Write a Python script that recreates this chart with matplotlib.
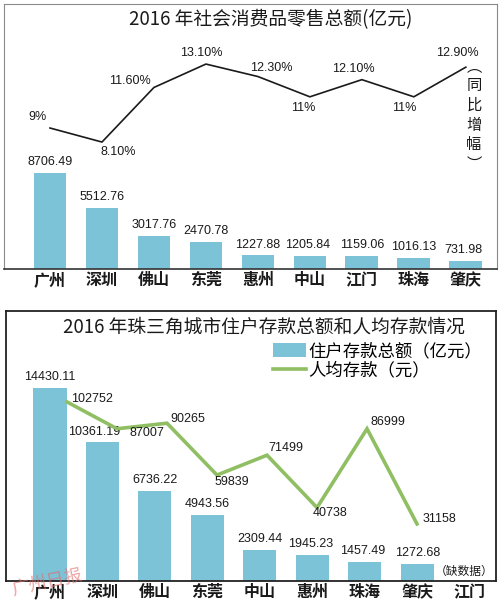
import numpy as np
import matplotlib
matplotlib.use("Agg")
import matplotlib.pyplot as plt

plt.rcParams["font.family"] = ["Noto Sans CJK SC", "DejaVu Sans"]

# ---- data: top panel (retail sales) ----
retail_cities = ["广州", "深圳", "佛山", "东莞", "惠州", "中山", "江门", "珠海", "肇庆"]
retail_values = [8706.49, 5512.76, 3017.76, 2470.78, 1227.88, 1205.84, 1159.06, 1016.13, 731.98]
retail_growth = [9.0, 8.1, 11.6, 13.1, 12.3, 11.0, 12.1, 11.0, 12.9]
retail_growth_labels = ["9%", "8.10%", "11.60%", "13.10%", "12.30%", "11%", "12.10%", "11%", "12.90%"]

# ---- data: bottom panel (household deposits) ----
deposit_cities = ["广州", "深圳", "佛山", "东莞", "中山", "惠州", "珠海", "肇庆", "江门"]
deposit_totals = [14430.11, 10361.19, 6736.22, 4943.56, 2309.44, 1945.23, 1457.49, 1272.68]
per_capita = [102752, 87007, 90265, 59839, 71499, 40738, 86999, 31158]

BAR = "#7dc3d8"
GREEN = "#90bf63"
INK = "#1a1a1a"
NUM = "Liberation Sans"

fig = plt.figure(figsize=(5.0, 6.07), dpi=100)
fig.patch.set_facecolor("white")

# ================= top panel =================
ax = fig.add_axes([0.008, 0.5568, 0.986, 0.4366])
x = np.arange(len(retail_cities))
ax.bar(x, retail_values, width=0.63, color=BAR, zorder=2)
ax.set_xlim(-0.885, 8.6)
ax.set_ylim(0, 24030)
ax.set_yticks([])
ax.set_xticks(x)
ax.set_xticklabels(retail_cities, fontsize=11.5, fontweight="bold", color=INK)
ax.tick_params(axis="x", length=0, pad=2)
for s in ["top", "left", "right"]:
    ax.spines[s].set_color("#8a8a8a")
    ax.spines[s].set_linewidth(0.8)
ax.spines["bottom"].set_color("#333333")
ax.spines["bottom"].set_linewidth(1.2)

val_dx = [0, 0, 0, 0, 0, -0.05, 0, 0, -0.05]
for i, v in enumerate(retail_values):
    ax.text(x[i] + val_dx[i], v + 450, f"{v:.2f}", ha="center", va="bottom",
            fontsize=9, family=NUM, color=INK)

ax.text(0.54, 0.98, "2016 年社会消费品零售总额(亿元)", transform=ax.transAxes,
        ha="center", va="top", fontsize=13.5, fontweight="medium", color=INK)

axl = ax.twinx()
axl.set_ylim(-0.04, 16.95)
axl.set_yticks([])
axl.set_xlim(ax.get_xlim())
for s in axl.spines.values():
    s.set_visible(False)
axl.plot(x, retail_growth, color=INK, lw=1.2, zorder=3)

# label offsets in pixels (dx, dy), dy positive = up
g_off = [(-12, 11), (16, -10), (-24, 6), (-5, 11), (13, 9), (-7, -11), (-8, 11), (-10, -11), (-8, 14)]
for i, (g, lab) in enumerate(zip(retail_growth, retail_growth_labels)):
    dx, dy = g_off[i]
    axl.annotate(lab, (x[i], g), xytext=(dx, dy), textcoords="offset pixels",
                 ha="center", va="center", fontsize=9, family=NUM, color=INK)

ax.text(0.953, 0.58, "︵\n同\n比\n增\n幅\n︶", transform=ax.transAxes,
        ha="center", va="center", fontsize=11, color=INK, linespacing=1.2)

# ================= bottom panel =================
bx = fig.add_axes([0.012, 0.0428, 0.98, 0.4448])
xb = np.arange(len(deposit_cities))
xt = np.arange(len(deposit_totals))
bars = bx.bar(xt, deposit_totals, width=0.63, color=BAR, zorder=2)
bx.set_xlim(-0.838, 8.5)
bx.set_ylim(0, 20190)
bx.set_yticks([])
bx.set_xticks(xb)
bx.set_xticklabels(deposit_cities, fontsize=11.5, fontweight="bold", color=INK)
bx.tick_params(axis="x", length=0, pad=2)
for s in bx.spines.values():
    s.set_color("#222222")
    s.set_linewidth(1.3)

tot_dx = [0, -0.15, 0, 0, 0, -0.03, -0.04, 0]
for i, v in enumerate(deposit_totals):
    bx.text(xt[i] + tot_dx[i], v + 350, f"{v:.2f}", ha="center", va="bottom",
            fontsize=9, family=NUM, color=INK)

bx.text(7.9, 250, "（缺数据）", ha="center", va="bottom", fontsize=8.5, color=INK)

bx.text(0.526, 0.98, "2016 年珠三角城市住户存款总额和人均存款情况",
        transform=bx.transAxes, ha="center", va="top", fontsize=13.5,
        fontweight="medium", color=INK)

# line overlay with its own x scale
bl = fig.add_axes(bx.get_position().bounds, frameon=False)
bl.set_xlim(-1.22, 8.58)
bl.set_ylim(-2347, 156100)
bl.set_xticks([])
bl.set_yticks([])
xl = np.arange(len(per_capita))
line, = bl.plot(xl, per_capita, color=GREEN, lw=2.6, zorder=3,
                solid_joinstyle="miter")

p_off = [(25, 3), (30, -4), (21, 4), (15, -7), (19, 7), (13, -5), (21, 7), (22, 5)]
for i, v in enumerate(per_capita):
    dx, dy = p_off[i]
    bl.annotate(f"{v}", (xl[i], v), xytext=(dx, dy), textcoords="offset pixels",
                ha="center", va="center", fontsize=9, family=NUM, color=INK)

bl.legend([bars, line], ["住户存款总额（亿元）", "人均存款（元）"],
          loc="upper left", bbox_to_anchor=(0.545, 0.885), frameon=False,
          fontsize=12.5, handlelength=1.9, handleheight=0.8, handletextpad=0.15,
          labelspacing=0.1, borderaxespad=0, borderpad=0)

# newspaper watermark
fig.text(0.02, 0.02, "广州日报", fontsize=13, color="#e06a6a", alpha=0.6,
         rotation=12, style="italic")

fig.savefig("out.png", dpi=100, facecolor="white")
